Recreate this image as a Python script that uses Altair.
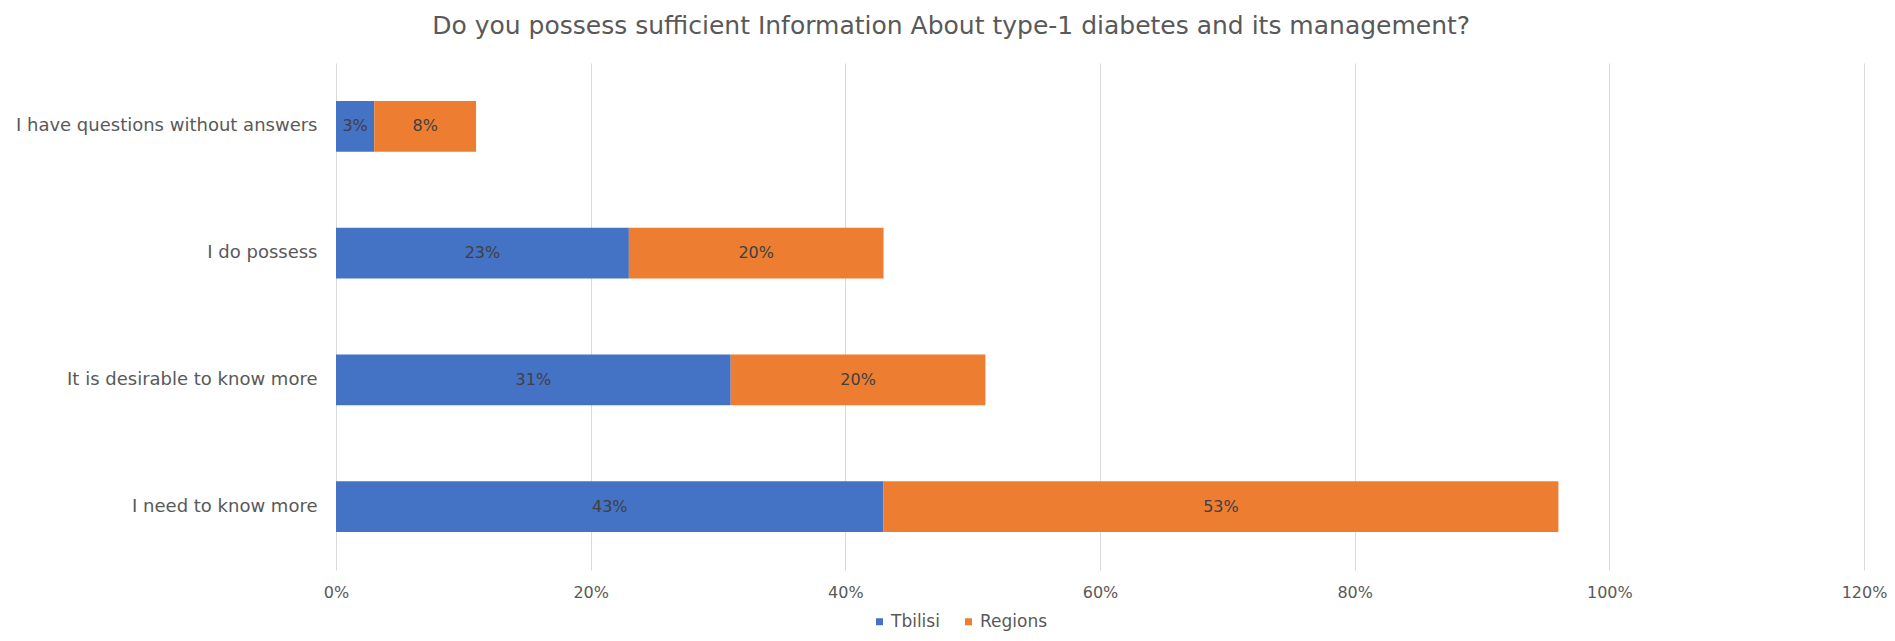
import altair as alt
import pandas as pd

categories = [
    "I have questions without answers",
    "I do possess",
    "It is desirable to know more",
    "I need to know more",
]
series = ["Tbilisi", "Regions"]
tbilisi = [0.03, 0.23, 0.31, 0.43]
regions = [0.08, 0.20, 0.20, 0.53]
x_ticks = [0, 0.2, 0.4, 0.6, 0.8, 1.0, 1.2]
colors = ["#4472C4", "#ED7D31"]

rows = []
for i, c in enumerate(categories):
    rows.append({"category": c, "series": "Tbilisi", "order": 0, "value": tbilisi[i]})
    rows.append({"category": c, "series": "Regions", "order": 1, "value": regions[i]})
df = pd.DataFrame(rows)

FONT = "DejaVu Sans"

base = alt.Chart(df).transform_stack(
    stack="value",
    groupby=["category"],
    as_=["v0", "v1"],
    sort=[alt.SortField("order", order="ascending")],
).transform_calculate(mid="(datum.v0 + datum.v1) / 2")

y_enc = alt.Y(
    "category:N",
    sort=categories,
    title=None,
    scale=alt.Scale(paddingInner=0.6, paddingOuter=0.3),
    axis=alt.Axis(
        domain=False,
        ticks=False,
        labelPadding=19,
        labelFontSize=18,
        labelColor="#595959",
        labelFont=FONT,
        labelLimit=400,
    ),
)

bars = base.mark_bar().encode(
    y=y_enc,
    x=alt.X(
        "v0:Q",
        title=None,
        scale=alt.Scale(domain=[0, 1.2], nice=False),
        axis=alt.Axis(
            values=x_ticks,
            format=".0%",
            grid=True,
            gridColor="#D9D9D9",
            gridWidth=1,
            domain=False,
            ticks=False,
            labelFlush=False,
            labelPadding=14,
            labelFontSize=16,
            labelColor="#595959",
            labelFont=FONT,
        ),
    ),
    x2="v1:Q",
    color=alt.Color(
        "series:N",
        sort=series,
        scale=alt.Scale(domain=series, range=colors),
        legend=alt.Legend(
            title=None,
            orient="none",
            direction="horizontal",
            legendX=535,
            legendY=550,
            symbolType="square",
            symbolSize=49,
            symbolStrokeWidth=0,
            labelFontSize=17,
            labelColor="#595959",
            labelFont=FONT,
            columnPadding=20,
            labelOffset=3,
        ),
    ),
)

labels = base.mark_text(fontSize=16, color="#404040", font=FONT).encode(
    y=alt.Y("category:N", sort=categories),
    x=alt.X("mid:Q"),
    text=alt.Text("value:Q", format=".0%"),
)

chart = (
    alt.layer(bars, labels)
    .properties(
        width=1528,
        height=507,
        autosize=alt.AutoSizeParams(type="none"),
        padding={"left": 328, "top": 55, "right": 23, "bottom": 63},
        title=alt.TitleParams(
            "Do you possess sufficient Information About type-1 diabetes and its management?",
            fontSize=25,
            font=FONT,
            fontWeight="normal",
            color="#595959",
            anchor="middle",
            frame="bounds",
            offset=24,
        ),
    )
    .configure_view(stroke=None)
)

chart.save("out.html", embed_options={"renderer": "svg", "actions": False})
